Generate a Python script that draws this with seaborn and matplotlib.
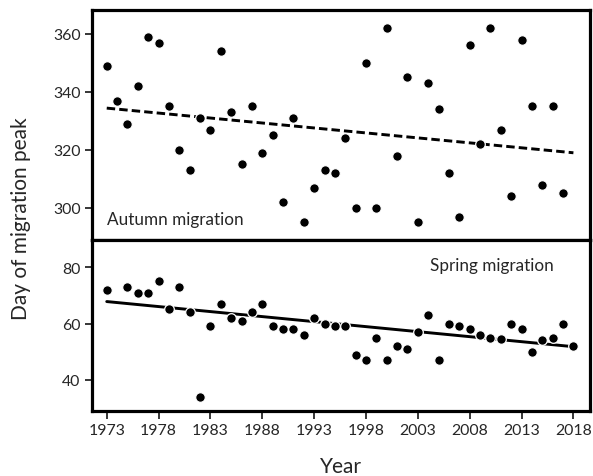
import pandas as pd
import seaborn as sns
import matplotlib.pyplot as plt

# autumn peak day, 1973-2017
autumn_years = list(range(1973, 2018))
autumn_day = [349, 337, 329, 342, 359, 357, 335, 320, 313, 331,
              327, 354, 333, 315, 335, 319, 325, 302, 331, 295,
              307, 313, 312, 324, 300, 350, 300, 362, 318, 345,
              295, 343, 334, 312, 297, 356, 322, 362, 327, 304,
              358, 335, 308, 335, 305]

# spring peak day, 1973 and 1975-2018
spring_years = [1973] + list(range(1975, 2019))
spring_day = [72, 73, 71, 71, 75, 65, 73, 64, 34, 59,
              67, 62, 61, 64, 67, 59, 58, 58, 56, 62,
              60, 59, 59, 49, 47, 55, 47, 52, 51, 57,
              63, 47, 60, 59, 58, 56, 55, 54.6, 60, 58,
              50, 54, 55, 60, 52]

# trend lines as drawn in the figure (end points)
trend_years = [1973, 2018]
autumn_trend = [334.4, 319.0]
spring_trend = [67.8, 51.8]

year_ticks = list(range(1973, 2019, 5))

autumn = pd.DataFrame({'Year': autumn_years, 'Day': autumn_day})
spring = pd.DataFrame({'Year': spring_years, 'Day': spring_day})

sns.set_style('ticks')
plt.rcParams['font.family'] = ['Lato', 'DejaVu Sans']

W, H = 593, 477
fig = plt.figure(figsize=(W / 100, H / 100), dpi=100)
left, right = 91.7 / W, 590 / W
y_top, y_mid, y_bot = 1 - 10.5 / H, 1 - 240.5 / H, 1 - 412 / H
ax1 = fig.add_axes([left, y_mid, right - left, y_top - y_mid])
ax2 = fig.add_axes([left, y_bot, right - left, y_mid - y_bot])

sns.lineplot(x=trend_years, y=autumn_trend, ax=ax1, color='black', lw=2.1,
             linestyle=(0, (2.9, 1.4)), zorder=2)
sns.lineplot(x=trend_years, y=spring_trend, ax=ax2, color='black', lw=2.1, zorder=2)

for df, ax in [(autumn, ax1), (spring, ax2)]:
    sns.scatterplot(data=df, x='Year', y='Day', ax=ax, color='black', s=48,
                    edgecolor='white', linewidth=0.9, zorder=3)
    ax.set_xlim(1971.55, 2019.6)
    ax.set_xlabel('')
    ax.set_ylabel('')
    for sp in ax.spines.values():
        sp.set_visible(True)
        sp.set_linewidth(2.3)
        sp.set_color('black')
    ax.tick_params(axis='y', length=5, width=1.3, labelsize=11.4, pad=3)

ax1.set_ylim(289.1, 368.4)
ax1.set_yticks([300, 320, 340, 360])
ax1.set_xticks([])
ax1.text(1973, 296.3, 'Autumn migration', fontsize=12.3, va='center', ha='left')

ax2.set_ylim(29.0, 89.8)
ax2.set_yticks([40, 60, 80])
ax2.set_xticks(year_ticks)
ax2.tick_params(axis='x', length=6, width=1.3, labelsize=11.4, pad=3)
ax2.text(2016.1, 80.8, 'Spring migration', fontsize=12.3, va='center', ha='right')

fig.text(21.5 / W, 1 - 219 / H, 'Day of migration peak', rotation=90,
         ha='center', va='center', fontsize=15)
fig.text(341 / W, 1 - 467 / H, 'Year', ha='center', va='center', fontsize=15)

fig.savefig('out.png', dpi=100)
